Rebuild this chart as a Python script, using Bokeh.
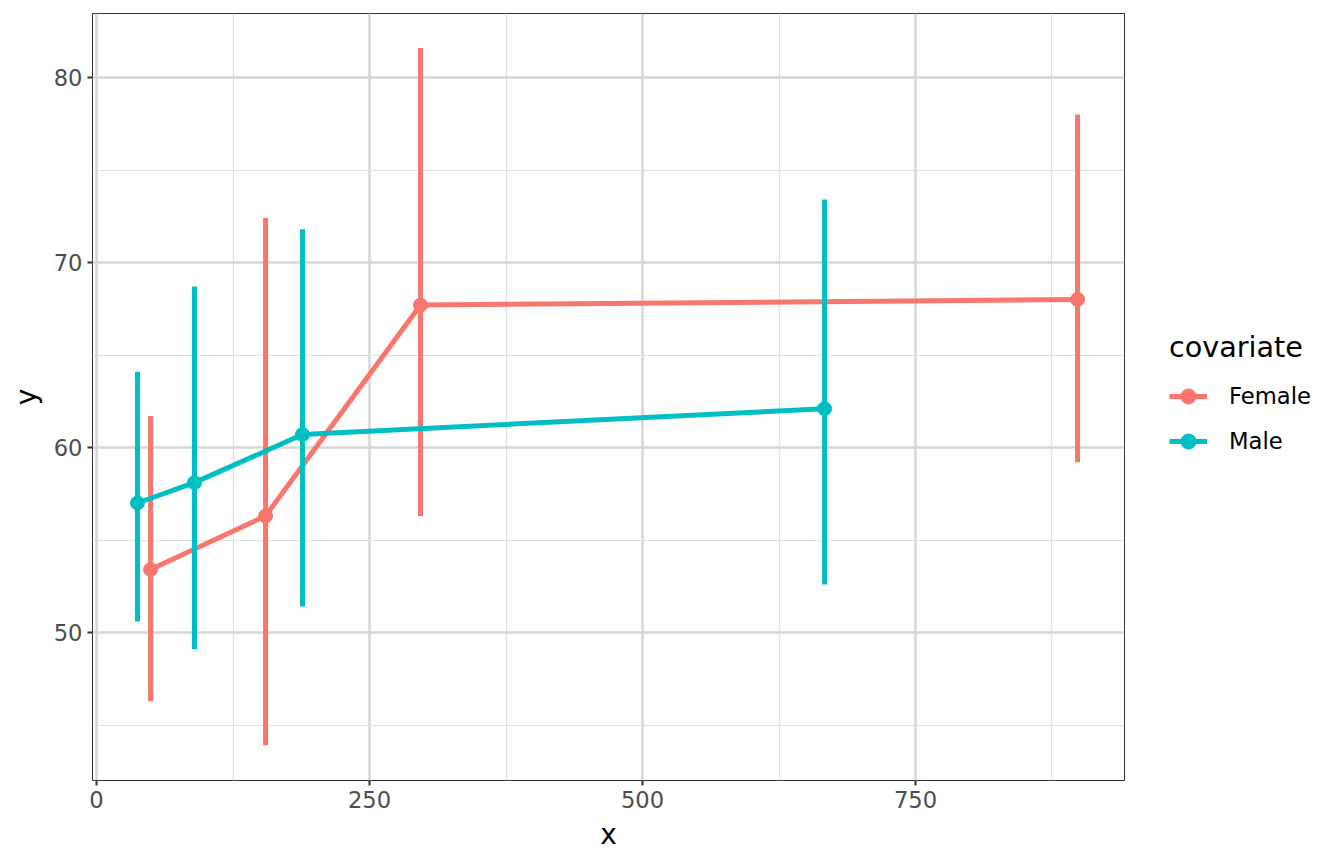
from bokeh.embed import file_html
from bokeh.layouts import row
from bokeh.resources import INLINE
from bokeh.models import ColumnDataSource, FixedTicker, Legend, LegendItem, Range1d
from bokeh.plotting import figure

# values
female_x = [49.5, 154.8, 296.7, 898.4]
female_y = [53.4, 56.3, 67.7, 68.0]
female_lo = [46.3, 43.9, 56.3, 59.2]
female_hi = [61.7, 72.4, 81.6, 78.0]

male_x = [37.5, 89.7, 188.6, 666.7]
male_y = [57.0, 58.1, 60.7, 62.1]
male_lo = [50.6, 49.1, 51.4, 52.6]
male_hi = [64.1, 68.7, 71.8, 73.4]

series = [
    ("Female", "#F8766D", female_x, female_y, female_lo, female_hi),
    ("Male", "#00BFC4", male_x, male_y, male_lo, male_hi),
]

x_ticks = [0, 250, 500, 750]
x_minor = [125, 375, 625, 875]
y_ticks = [50, 60, 70, 80]
y_minor = [45, 55, 65, 75]

p = figure(frame_width=1032, frame_height=767, output_backend="svg", toolbar_location=None,
           x_range=Range1d(-3.7, 941.4), y_range=Range1d(42.0, 83.46),
           min_border_left=92, min_border_top=13, min_border_bottom=70, min_border_right=5)

p.background_fill_color = "white"
p.border_fill_color = "white"
p.outline_line_color = "#333333"
p.outline_line_width = 1

p.xaxis.ticker = FixedTicker(ticks=x_ticks, minor_ticks=x_minor)
p.yaxis.ticker = FixedTicker(ticks=y_ticks, minor_ticks=y_minor)

for g in (p.xgrid, p.ygrid):
    g.grid_line_color = "#d6d6d6"
    g.grid_line_width = 2.5
    g.minor_grid_line_color = "#e0e0e0"
    g.minor_grid_line_width = 1.2

for ax in (p.xaxis, p.yaxis):
    ax.axis_line_color = None
    ax.major_tick_line_color = "#333333"
    ax.major_tick_line_width = 2
    ax.major_tick_out = 5
    ax.major_tick_in = 0
    ax.minor_tick_line_color = None
    ax.major_label_text_color = "#4d4d4d"
    ax.major_label_text_font = "DejaVu Sans"
    ax.major_label_text_font_size = "17pt"
    ax.axis_label_text_font = "DejaVu Sans"
    ax.axis_label_text_font_size = "21pt"
    ax.axis_label_text_font_style = "normal"
    ax.axis_label_text_color = "black"

p.xaxis.axis_label = "x"
p.yaxis.axis_label = "y"
p.xaxis.major_label_standoff = 5
p.yaxis.major_label_standoff = 5
p.xaxis.axis_label_standoff = 7
p.yaxis.axis_label_standoff = 8

# legend lives in its own narrow figure to the right of the panel
leg = figure(width=200, height=850, output_backend="svg", toolbar_location=None,
             min_border=0, x_range=Range1d(-2, -1), y_range=Range1d(-2, -1))
leg.axis.visible = False
leg.grid.visible = False
leg.outline_line_color = None

items = []
for name, color, xs, ys, lo, hi in series:
    src = ColumnDataSource(dict(x=xs, y=ys, lo=lo, hi=hi))
    p.segment(x0="x", y0="lo", x1="x", y1="hi", source=src, line_color=color, line_width=5)
    p.line("x", "y", source=src, line_color=color, line_width=5)
    p.scatter("x", "y", source=src, size=14, fill_color=color, line_color=color)
    # same data, out of this figure's view: only the legend swatches show
    ln = leg.line("x", "y", source=src, line_color=color, line_width=5)
    pt = leg.scatter("x", "y", source=src, size=13, fill_color=color, line_color=color)
    items.append(LegendItem(label=name, renderers=[ln, pt]))

legend = Legend(items=items, title="covariate", location=(40, 316))
legend.title_text_font = "DejaVu Sans"
legend.title_text_font_size = "21.5pt"
legend.title_text_font_style = "normal"
legend.title_text_color = "black"
legend.title_standoff = 12
legend.label_text_font = "DejaVu Sans"
legend.label_text_font_size = "17pt"
legend.label_text_color = "black"
legend.border_line_color = None
legend.background_fill_alpha = 0
legend.glyph_width = 38
legend.glyph_height = 40
legend.label_standoff = 22
legend.spacing = 5
legend.padding = 4
legend.margin = 0
leg.add_layout(legend)

open("out.html", "w").write(file_html(row(p, leg), INLINE))
